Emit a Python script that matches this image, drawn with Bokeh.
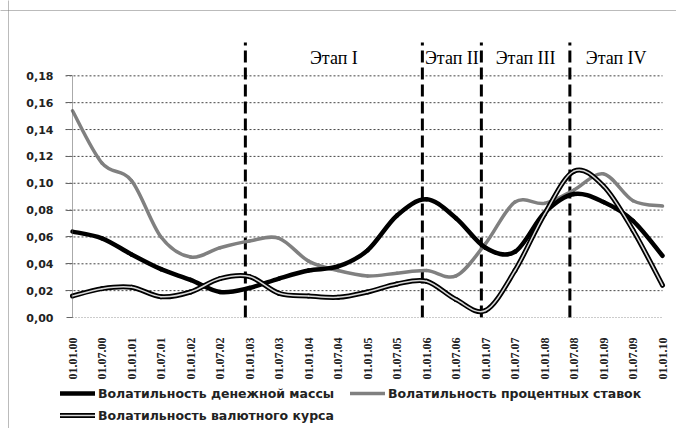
import numpy as np
from bokeh.plotting import figure
from bokeh.models import Range1d, FixedTicker, Span, Legend, LegendItem
from bokeh.embed import file_html
from bokeh.resources import INLINE
from bokeh.core.properties import value

# ---------------- data ----------------
categories = ["01.01.00", "01.07.00", "01.01.01", "01.07.01", "01.01.02", "01.07.02",
              "01.01.03", "01.07.03", "01.01.04", "01.07.04", "01.01.05", "01.07.05",
              "01.01.06", "01.07.06", "01.01.07", "01.07.07", "01.01.08", "01.07.08",
              "01.01.09", "01.07.09", "01.01.10"]
money = [0.064, 0.059, 0.047, 0.036, 0.028, 0.019, 0.022, 0.029, 0.035, 0.038, 0.050,
         0.076, 0.088, 0.074, 0.052, 0.049, 0.078, 0.092, 0.086, 0.072, 0.046]
rates = [0.154, 0.115, 0.102, 0.060, 0.045, 0.052, 0.057, 0.059, 0.042, 0.035, 0.031,
         0.033, 0.035, 0.031, 0.055, 0.086, 0.085, 0.095, 0.107, 0.087, 0.083]
fx = [0.016, 0.0215, 0.0225, 0.0155, 0.019, 0.029, 0.0305, 0.018, 0.016, 0.015, 0.019,
      0.025, 0.027, 0.0134, 0.0052, 0.035, 0.077, 0.109, 0.098, 0.065, 0.024]
series_names = ["Волатильность денежной массы", "Волатильность процентных ставок",
                "Волатильность валютного курса"]
y_ticks = [0.0, 0.02, 0.04, 0.06, 0.08, 0.10, 0.12, 0.14, 0.16, 0.18]
y_labels = ["0,00", "0,02", "0,04", "0,06", "0,08", "0,10", "0,12", "0,14", "0,16", "0,18"]
stage_names = ["Этап I", "Этап II", "Этап III", "Этап IV"]
stage_bounds = ["01.01.03", "01.01.06", "01.01.07", "01.07.08"]


def smooth_parts(ys):
    """Bezier control points for an Excel-like smoothed line through the points."""
    n = len(ys)
    x = np.arange(n, dtype=float)
    y = np.asarray(ys, dtype=float)
    xp = np.concatenate([[x[0]], x, [x[-1]]])
    yp = np.concatenate([[y[0]], y, [y[-1]]])
    d = {}
    d["x0"], d["y0"] = x[:-1], y[:-1]
    d["x1"], d["y1"] = x[1:], y[1:]
    d["cx0"] = xp[1:n] + (xp[2:n + 1] - xp[0:n - 1]) / 6
    d["cy0"] = yp[1:n] + (yp[2:n + 1] - yp[0:n - 1]) / 6
    d["cx1"] = xp[2:n + 1] - (xp[3:n + 2] - xp[1:n]) / 6
    d["cy1"] = yp[2:n + 1] - (yp[3:n + 2] - yp[1:n]) / 6
    return d


# ---------------- geometry (pixels) ----------------
W, H = 676, 428
X0_PX, STEP_PX = 72.0, 29.5          # first category position, category spacing
Y0_PX, UNIT_PX = 317.0, 1342.5       # pixel row of value 0, pixels per 1.0 of value

def xval(px):
    return (px - X0_PX) / STEP_PX

def yval(py):
    return (Y0_PX - py) / UNIT_PX

p = figure(width=W, height=H, output_backend="svg", toolbar_location=None,
           x_range=Range1d(xval(0), xval(W)), y_range=Range1d(yval(H), yval(0)),
           min_border_left=0, min_border_right=0, min_border_top=0, min_border_bottom=0)
p.outline_line_color = None
p.background_fill_color = "white"
p.border_fill_color = "white"

# outer dotted chart border
p.add_layout(Span(location=xval(8), dimension="height", line_color="#777",
                  line_dash="1 1", line_width=1))
p.add_layout(Span(location=yval(10), dimension="width", line_color="#777",
                  line_dash="1 1", line_width=1))

# horizontal gridlines (limited to the plot area)
last = len(categories) - 1
grid_y = y_ticks[1:]
p.segment(x0=[xval(65)] * len(grid_y), y0=grid_y, x1=[last] * len(grid_y), y1=grid_y,
          line_color="#444", line_dash="2 2", line_width=1)
p.xgrid.grid_line_color = None
p.ygrid.grid_line_color = None

# axes (drawn inside the frame at fixed positions)
p.xaxis.fixed_location = 0
p.xaxis.ticker = FixedTicker(ticks=list(range(len(categories))))
p.xaxis.major_label_overrides = {i: c for i, c in enumerate(categories)}
p.xaxis.major_label_orientation = np.pi / 2
p.xaxis.major_label_text_font = "Liberation Serif"
p.xaxis.major_label_text_font_style = "bold"
p.xaxis.major_label_text_font_size = "12px"
p.xaxis.major_label_text_color = "#222"
p.xaxis.major_label_standoff = 14
p.xaxis.major_tick_line_color = None
p.xaxis.minor_tick_line_color = None
p.xaxis.axis_line_color = "#999"
p.xaxis.axis_line_dash = "1 2"
p.xaxis.bounds = (0, last)

p.yaxis.fixed_location = 0
p.yaxis.ticker = FixedTicker(ticks=y_ticks)
p.yaxis.major_label_overrides = {t: l for t, l in zip(y_ticks, y_labels)}
p.yaxis.major_label_text_font = "DejaVu Sans"
p.yaxis.major_label_text_font_style = "bold"
p.yaxis.major_label_text_font_size = "11px"
p.yaxis.major_label_text_color = "#222"
p.yaxis.major_label_standoff = 13
p.yaxis.major_tick_out = 6
p.yaxis.major_tick_in = 0
p.yaxis.major_tick_line_color = "#666"
p.yaxis.minor_tick_line_color = None
p.yaxis.axis_line_color = "#555"
p.yaxis.axis_line_dash = "1 1"
p.yaxis.bounds = (0, 0.18)

# stage separators and labels
offset = -0.14
bpos = [categories.index(b) + offset for b in stage_bounds]
p.segment(x0=bpos, y0=[0] * len(bpos), x1=bpos, y1=[yval(42)] * len(bpos),
          line_color="black", line_width=3, line_dash="12 5")
ends = bpos[1:] + [last]
mids = [(a + b) / 2 for a, b in zip(bpos, ends)]
p.text(x=mids, y=[yval(57)] * len(mids), text=stage_names,
       text_font=value("Liberation Serif"), text_font_size="18px",
       text_align="center", text_baseline="middle", text_color="black")

# series
r_rates = p.bezier(**smooth_parts(rates), line_color="#808080",
                   line_width=3.5, line_cap="round")
r_money = p.bezier(**smooth_parts(money), line_color="black", line_width=4.5,
                   line_cap="round")
r_fx_out = p.bezier(**smooth_parts(fx), line_color="black", line_width=5,
                    line_cap="round")
r_fx_in = p.bezier(**smooth_parts(fx), line_color="#d8d8d8", line_width=1.5,
                   line_cap="round")

legend = Legend(items=[LegendItem(label=series_names[0], renderers=[r_money]),
                       LegendItem(label=series_names[1], renderers=[r_rates]),
                       LegendItem(label=series_names[2], renderers=[r_fx_out, r_fx_in])],
                location=(60, H - 423), orientation="horizontal", ncols=2,
                glyph_width=35, glyph_height=16, label_height=16, label_width=246,
                label_standoff=3, spacing=6, padding=0, margin=0,
                label_text_font="DejaVu Sans", label_text_font_style="bold",
                label_text_font_size="12.5px", label_text_color="#222",
                background_fill_alpha=0, border_line_color=None)
p.add_layout(legend)

open("out.html", "w").write(file_html(p, INLINE))
